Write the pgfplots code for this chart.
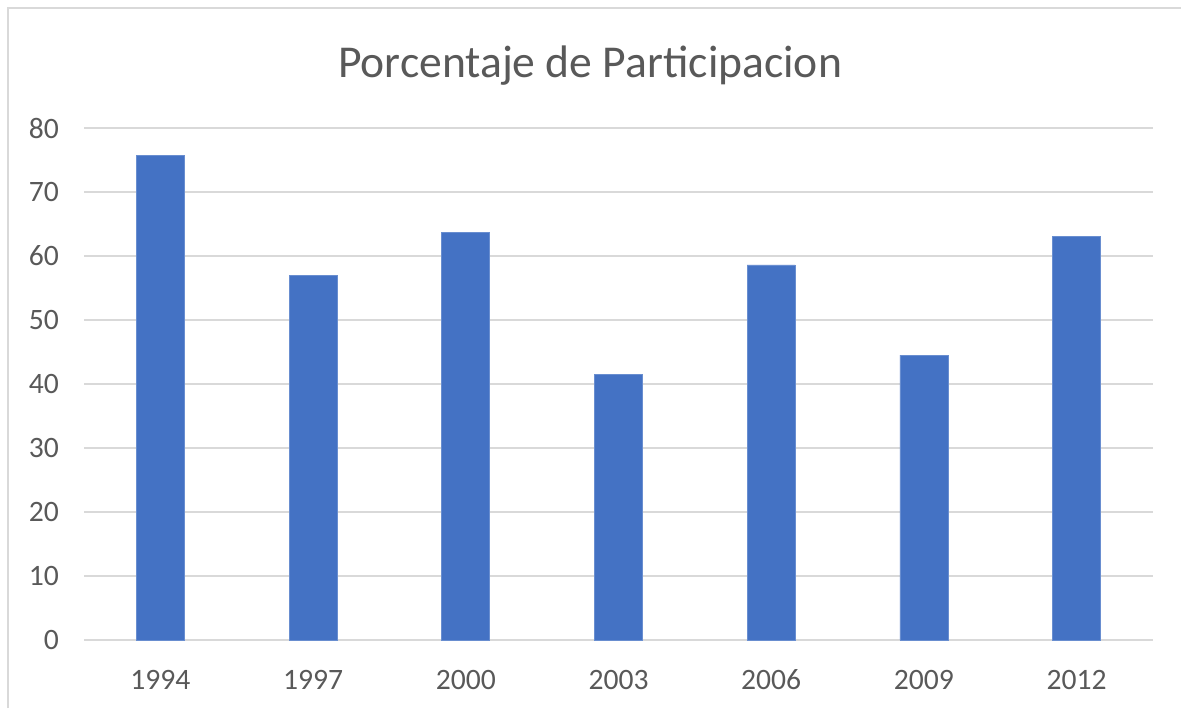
\documentclass[border=0pt]{standalone}
\usepackage{fontspec}
\setmainfont{Carlito}
\usepackage{pgfplots}
\pgfplotsset{compat=1.18}
\definecolor{barblue}{HTML}{4472C4}
\definecolor{gridgray}{HTML}{D9D9D9}
\definecolor{txtgray}{HTML}{595959}
\begin{document}
\begin{tikzpicture}
\useasboundingbox (-42pt,-34pt) rectangle (548.5pt,320pt);
\draw[gridgray, line width=1pt] (-38.2pt,-34pt) -- (-38.2pt,316pt) -- (548.5pt,316pt);
\begin{axis}[
  at={(0,0)}, anchor=south west,
  scale only axis,
  width=534.5pt, height=256pt,
  xmin=-0.5, xmax=6.5,
  ymin=0, ymax=80,
  ytick={0,10,...,80},
  xtick={0,...,6},
  xticklabels={1994,1997,2000,2003,2006,2009,2012},
  ymajorgrids,
  grid style={gridgray, line width=0.75pt},
  axis x line*=bottom,
  axis y line*=left,
  y axis line style={draw=none},
  x axis line style={gridgray, line width=1pt, -},
  major tick length=0pt,
  tick style={draw=none},
  ticklabel style={font=\fontsize{14.8}{17}\selectfont, text=txtgray},
  /pgf/number format/assume math mode=true,
  xticklabel style={yshift=-14.5pt, text height=1.4ex, text depth=0pt},
  yticklabel style={xshift=-9pt},
  clip=false,
]
\addplot[ybar, bar width=24pt, fill=barblue, draw=barblue!80!white, line width=0.4pt]
  coordinates {(0,75.7) (1,56.9) (2,63.7) (3,41.5) (4,58.6) (5,44.5) (6,63.1)};
\end{axis}
\node[text=txtgray, font=\fontsize{22.8}{27}\selectfont] at (253pt,287pt) {Porcentaje de Participacion};
\end{tikzpicture}
\end{document}
